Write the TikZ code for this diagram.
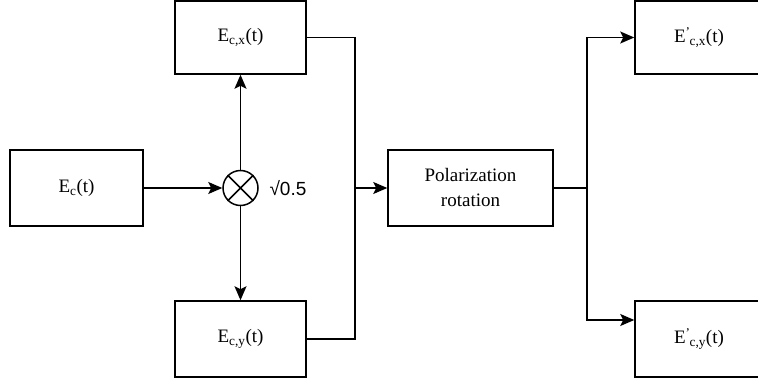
\documentclass[tikz,border=0pt]{standalone}
\usepackage{fontspec}
\setmainfont{Liberation Serif}
\newfontfamily\sansf{Liberation Sans}
\usetikzlibrary{arrows.meta}
\begin{document}
\begin{tikzpicture}[x=1pt,y=-1pt,
  blk/.style={draw,line width=1.5pt,minimum width=#1,inner sep=0pt,
    font=\fontsize{19}{25}\selectfont,align=center},
  conn/.style={line width=1.5pt},
  arr/.style={conn,-{Stealth[length=14pt,width=12pt,inset=3pt]}}]
\useasboundingbox (0,0) rectangle (758,385);
\node[blk=133pt,minimum height=76pt] (ec) at (76.5,188) {E\textsubscript{c}(t)};
\node[draw,line width=1.5pt,circle,minimum size=35pt,inner sep=0pt] (mul) at (240.5,188) {};
\draw[line width=1.5pt] (mul.north east) -- (mul.south west) (mul.north west) -- (mul.south east);
\node[font=\sansf\fontsize{19}{22}\selectfont,anchor=west] (lbl) at (266,188) {√0.5};
\node[blk=131pt,minimum height=73pt] (ecx) at (240.5,37.5) {E\textsubscript{c,x}(t)};
\node[blk=131pt,minimum height=76pt] (ecy) at (240.5,339) {E\textsubscript{c,y}(t)};
\node[blk=165pt,minimum height=76pt] (pol) at (470.5,188) {Polarization\\rotation};
\node[blk=128pt,minimum height=73pt] (ecx2) at (699,37.5) {E\textsuperscript{'}\kern-1pt\textsubscript{c,x}(t)};
\node[blk=128pt,minimum height=76pt] (ecy2) at (699,339) {E\textsuperscript{'}\kern-1pt\textsubscript{c,y}(t)};
\coordinate (j1) at (355,188);
\coordinate (j2) at (587,188);
\draw[arr] (ec.east) -- (mul.west);
\draw[arr] (mul.north) -- (ecx.south);
\draw[arr] (mul.south) -- (ecy.north);
\draw[conn] (ecx.east) -| (j1) |- (ecy.east);
\draw[arr] (j1) -- (pol.west);
\draw[conn] (pol.east) -- (j2);
\draw[arr] (j2) |- (ecx2.west);
\draw[arr] (j2) |- ([yshift=19pt]ecy2.west);
\end{tikzpicture}
\end{document}
